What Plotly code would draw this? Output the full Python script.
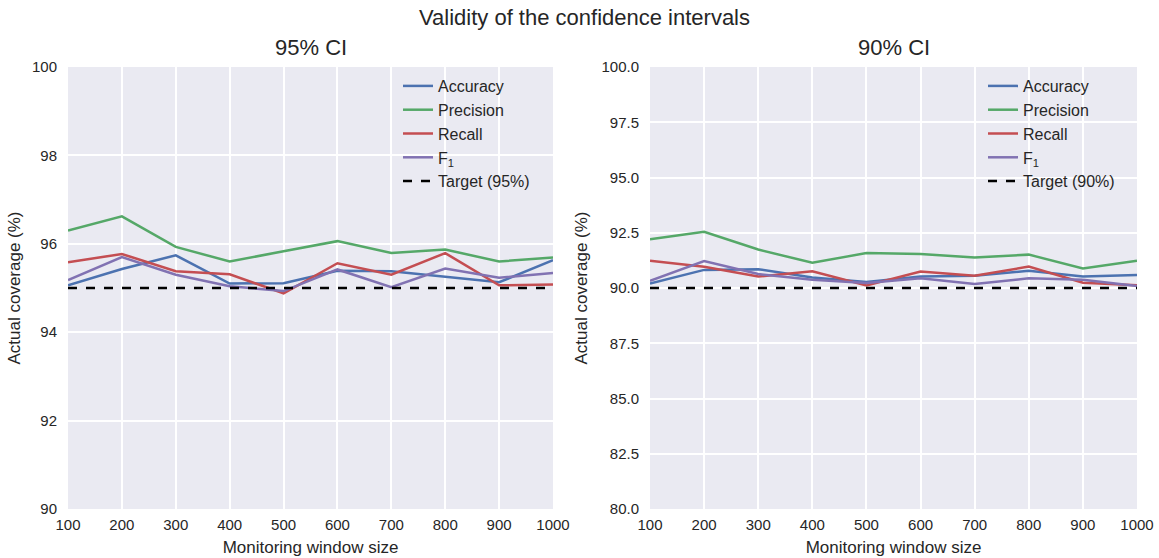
import plotly.graph_objects as go

window = [100, 200, 300, 400, 500, 600, 700, 800, 900, 1000]

acc_95 = [95.06, 95.43, 95.74, 95.10, 95.11, 95.39, 95.38, 95.26, 95.13, 95.63]
prec_95 = [96.30, 96.62, 95.93, 95.60, 95.83, 96.06, 95.79, 95.87, 95.60, 95.69]
rec_95 = [95.58, 95.77, 95.38, 95.31, 94.88, 95.56, 95.30, 95.79, 95.06, 95.08]
f1_95 = [95.18, 95.70, 95.30, 95.04, 94.93, 95.42, 95.02, 95.44, 95.23, 95.34]
target_95 = 95

acc_90 = [90.20, 90.82, 90.85, 90.47, 90.27, 90.52, 90.55, 90.78, 90.52, 90.59]
prec_90 = [92.21, 92.54, 91.74, 91.14, 91.58, 91.54, 91.38, 91.51, 90.88, 91.23]
rec_90 = [91.23, 90.96, 90.52, 90.76, 90.12, 90.75, 90.55, 90.97, 90.24, 90.12]
f1_90 = [90.32, 91.22, 90.63, 90.37, 90.23, 90.44, 90.18, 90.44, 90.37, 90.09]
target_90 = 90

names = ["Accuracy", "Precision", "Recall", "F<sub>1</sub>"]
colors = ["#4C72B0", "#55A868", "#C44E52", "#8172B2"]

W, H = 1159, 558
L, R, T, B = 68, 1137, 67, 509
FONT = "Liberation Sans, Arial, sans-serif"
TXT = "#262626"

fig = go.Figure()

panels = [
    ([acc_95, prec_95, rec_95, f1_95], target_95, "x", "y", "legend", "Target (95%)"),
    ([acc_90, prec_90, rec_90, f1_90], target_90, "x2", "y2", "legend2", "Target (90%)"),
]
for series, tgt, xa, ya, lg, tname in panels:
    for s, n, c in zip(series, names, colors):
        fig.add_trace(go.Scatter(x=window, y=s, mode="lines", name=n,
                                 line=dict(color=c, width=2.5),
                                 xaxis=xa, yaxis=ya, legend=lg))
    fig.add_trace(go.Scatter(x=window, y=[tgt] * len(window), mode="lines", name=tname,
                             line=dict(color="black", width=2.5, dash="dash"),
                             xaxis=xa, yaxis=ya, legend=lg))

def px(x):
    return (x - L) / (R - L)

def py(y):
    return (B - y) / (B - T)

axis_common = dict(showgrid=True, gridcolor="white", gridwidth=1.8, zeroline=False,
                   showline=False, ticks="", ticklen=0, automargin=False,
                   tickfont=dict(size=15, color=TXT, family=FONT),
                   title_font=dict(size=17, color=TXT, family=FONT))

fig.update_layout(
    width=W, height=H,
    margin=dict(l=L, r=W - R, t=T, b=H - B),
    paper_bgcolor="white",
    plot_bgcolor="#EAEAF2",
    font=dict(family=FONT, color=TXT),
    xaxis=dict(domain=[0, px(553)], range=[100, 1000], tickvals=window, ticklabelstandoff=5,
               title=dict(text="Monitoring window size", standoff=9), anchor="y", **axis_common),
    yaxis=dict(domain=[0, 1], range=[90, 100], dtick=2, ticklabelstandoff=10,
               title=dict(text="Actual coverage (%)", standoff=7), anchor="x", **axis_common),
    xaxis2=dict(domain=[px(650), 1], range=[100, 1000], tickvals=window, ticklabelstandoff=5,
                title=dict(text="Monitoring window size", standoff=9), anchor="y2", **axis_common),
    yaxis2=dict(domain=[0, 1], range=[80, 100], dtick=2.5, tickformat=".1f", ticklabelstandoff=10,
                title=dict(text="Actual coverage (%)", standoff=9), anchor="x2", **axis_common),
    legend=dict(x=px(398), y=py(69), xanchor="left", yanchor="top", bgcolor="rgba(0,0,0,0)",
                font=dict(size=16, color=TXT, family=FONT), tracegroupgap=0),
    legend2=dict(x=px(983), y=py(69), xanchor="left", yanchor="top", bgcolor="rgba(0,0,0,0)",
                 font=dict(size=16, color=TXT, family=FONT), tracegroupgap=0),
    annotations=[
        dict(text="Validity of the confidence intervals", x=px(584), y=py(18), xref="paper", yref="paper",
             showarrow=False, font=dict(size=22, color=TXT, family=FONT), xanchor="center", yanchor="middle"),
        dict(text="95% CI", x=px(311), y=py(48), xref="paper", yref="paper",
             showarrow=False, font=dict(size=22, color=TXT, family=FONT), xanchor="center", yanchor="middle"),
        dict(text="90% CI", x=px(894), y=py(48), xref="paper", yref="paper",
             showarrow=False, font=dict(size=22, color=TXT, family=FONT), xanchor="center", yanchor="middle"),
    ],
)

fig.write_html("out.html", config={"displayModeBar": False},
               post_script="document.body.style.margin='0';document.body.style.overflow='hidden';")
